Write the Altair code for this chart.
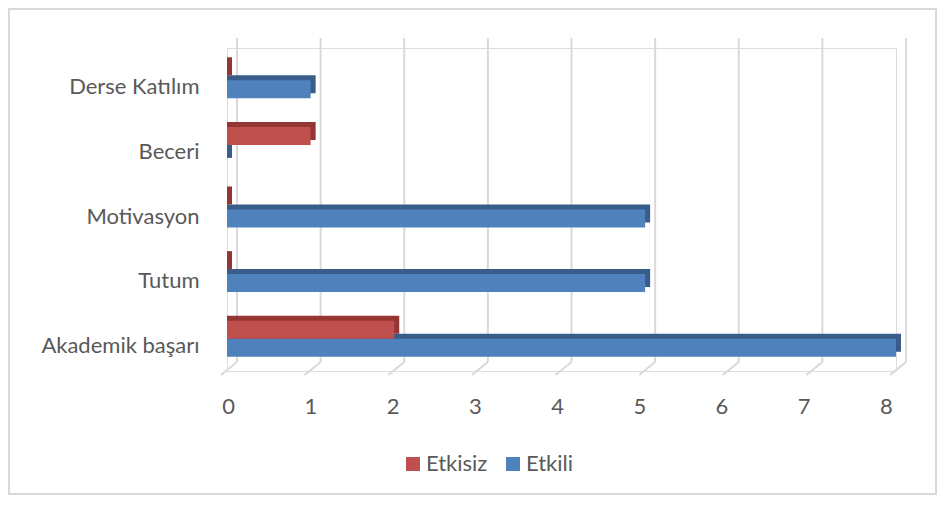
import altair as alt
import pandas as pd

categories = ["Derse Katılım", "Beceri", "Motivasyon", "Tutum", "Akademik başarı"]
etkisiz = [0, 1, 0, 0, 2]
etkili = [1, 0, 5, 5, 8]
series_names = ["Etkisiz", "Etkili"]
ticks = [0, 1, 2, 3, 4, 5, 6, 7, 8]

RED, BLUE = "#C0504D", "#4F81BD"
RED_D, BLUE_D = "#943634", "#385D8A"
GRID = "#D9D9D9"
TXT = "#595959"
FONT = "Lato"
FS = 22

rows = []
for c, a, b in zip(categories, etkisiz, etkili):
    rows.append({"cat": c, "series": "Etkisiz", "value": a, "start": 0})
    rows.append({"cat": c, "series": "Etkili", "value": b, "start": 0})
df = pd.DataFrame(rows)
tick_df = pd.DataFrame({"tick": ticks})
frame_df = pd.DataFrame({"k": [0]})

xs = alt.Scale(domain=[0, 8], nice=False, zero=False)
floor_scale = alt.Scale(domain=[-0.0122, 8.1216], nice=False, zero=False)
yaxis = alt.Axis(title=None, domain=False, ticks=False, labelPadding=28, labelOffset=7,
                 labelFontSize=FS, labelColor=TXT, labelFont=FONT, grid=False)
yenc = alt.Y("cat:N", sort=categories, scale=alt.Scale(paddingInner=0, paddingOuter=0), axis=yaxis)
cenc = alt.Color("series:N", scale=alt.Scale(domain=series_names, range=[RED, BLUE]),
                 legend=alt.Legend(title=None, orient="none", direction="horizontal",
                                   legendX=175, legendY=405, symbolType="square",
                                   symbolSize=196, symbolStrokeWidth=0, symbolOpacity=1,
                                   labelFontSize=FS, labelColor=TXT, labelFont=FONT,
                                   labelOffset=2, columnPadding=14))

frame = alt.Chart(frame_df).mark_rect(fillOpacity=0, stroke=GRID, strokeWidth=2).encode(
    x=alt.value(-218), x2=alt.value(709), y=alt.value(-39), y2=alt.value(446))

grid_v = alt.Chart(tick_df).mark_rule(color=GRID, strokeWidth=2, xOffset=10).encode(
    x=alt.X("tick:Q", scale=xs, axis=None), y=alt.value(-10), y2=alt.value(314))
grid_d = alt.Chart(tick_df).mark_rule(color=GRID, strokeWidth=2, xOffset=10, x2Offset=-6).encode(
    x=alt.X("tick:Q", scale=xs, axis=None), x2="tick:Q", y=alt.value(314), y2=alt.value(327))

floor_axis = alt.Chart(tick_df).mark_point(opacity=0, size=1).encode(
    x=alt.X("tick:Q", scale=floor_scale,
            axis=alt.Axis(title=None, orient="bottom", values=ticks, domain=False, ticks=False,
                          grid=False, labelPadding=25, labelFontSize=FS, labelColor=TXT,
                          labelFont=FONT, format="d")),
    y=alt.value(0))

def bars(series, dy, color_dark):
    base = alt.Chart(df).transform_filter(alt.datum.series == series)
    shadow = base.mark_bar(height=18, yOffset=dy - 5, x2Offset=5, color=color_dark).encode(
        x=alt.X("start:Q", scale=xs, axis=None), x2="value:Q", y=yenc)
    front = base.mark_bar(height=18, yOffset=dy).encode(
        x=alt.X("start:Q", scale=xs, axis=None), x2="value:Q", y=yenc, color=cenc)
    return [shadow, front]

layers = [frame, grid_v, grid_d, floor_axis] + bars("Etkili", 9, BLUE_D) + bars("Etkisiz", -9, RED_D)

chart = alt.layer(*layers).resolve_scale(x="independent").properties(
    width=669, height=323,
    autosize=alt.AutoSizeParams(type="none"),
    padding={"left": 219, "top": 40, "right": 42, "bottom": 126},
).configure_view(stroke=None).configure(background="white")

chart.save("out.html", embed_options={"renderer": "svg", "actions": False})
